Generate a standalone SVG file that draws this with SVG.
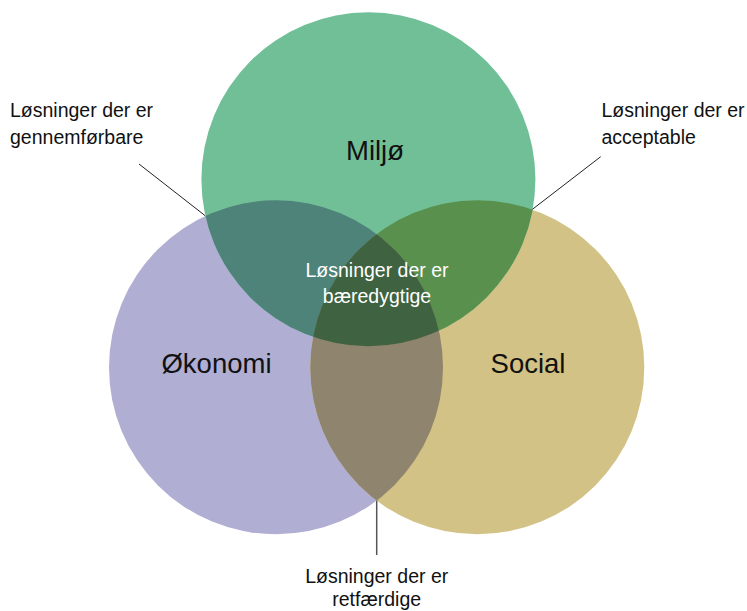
<svg xmlns="http://www.w3.org/2000/svg" width="747" height="611" viewBox="0 0 747 611">
<style>
  .lbl { font-family: "Liberation Sans", Arial, sans-serif; font-size: 19.5px; fill: #111; }
  .big { font-family: "Liberation Sans", Arial, sans-serif; font-size: 27.5px; fill: #111; text-anchor: middle; }
  .wht { font-family: "Liberation Sans", Arial, sans-serif; font-size: 19.5px; fill: #ffffff; text-anchor: middle; }
  .mid { text-anchor: middle; }
  .lead { stroke: #222; stroke-width: 1; fill: none; }
  .leadg { stroke: #555; stroke-width: 1.5; fill: none; }
</style>
<defs>
  <clipPath id="clipM"><circle cx="368.4" cy="179.3" r="167"/></clipPath>
  <clipPath id="clipO"><circle cx="276" cy="367.3" r="167"/></clipPath>
</defs>
<rect width="747" height="611" fill="#ffffff"/>
<g id="okonomi">
  <circle cx="276" cy="367.3" r="167" fill="#B0AFD3"/>
  <text class="big" x="216.5" y="372.5">Økonomi</text>
</g>
<g id="social">
  <circle cx="477.3" cy="367.3" r="167" fill="#D2C285"/>
  <text class="big" x="528" y="372.5">Social</text>
</g>
<g id="miljo">
  <circle cx="368.4" cy="179.3" r="167" fill="#71BF97"/>
  <text class="big" x="375" y="160">Miljø</text>
</g>
<g id="overlap-miljo-okonomi">
  <circle cx="276" cy="367.3" r="167" fill="#4E837A" clip-path="url(#clipM)"/>
</g>
<g id="overlap-miljo-social">
  <circle cx="477.3" cy="367.3" r="167" fill="#5A904E" clip-path="url(#clipM)"/>
</g>
<g id="overlap-okonomi-social">
  <circle cx="477.3" cy="367.3" r="167" fill="#8F846D" clip-path="url(#clipO)"/>
</g>
<g id="overlap-center">
  <g clip-path="url(#clipM)">
    <circle cx="477.3" cy="367.3" r="167" fill="#3F6341" clip-path="url(#clipO)"/>
  </g>
  <text class="wht" x="377" y="276.5">Løsninger der er</text>
  <text class="wht" x="377" y="303">bæredygtige</text>
</g>
<g id="connectors">
  <line class="lead" x1="139" y1="164" x2="205.3" y2="215.8"/>
  <line class="lead" x1="600.7" y1="156.7" x2="532.3" y2="209.4"/>
  <line class="leadg" x1="376.7" y1="500.5" x2="376.7" y2="555"/>
</g>
<g id="label-gennemforbare">
  <text class="lbl" x="10" y="116.5">Løsninger der er</text>
  <text class="lbl" x="10" y="143.5">gennemførbare</text>
</g>
<g id="label-acceptable">
  <text class="lbl" x="601.5" y="116.5">Løsninger der er</text>
  <text class="lbl" x="601.5" y="143.5">acceptable</text>
</g>
<g id="label-retfaerdige">
  <text class="lbl mid" x="376.7" y="583">Løsninger der er</text>
  <text class="lbl mid" x="376.7" y="606">retfærdige</text>
</g>
</svg>
